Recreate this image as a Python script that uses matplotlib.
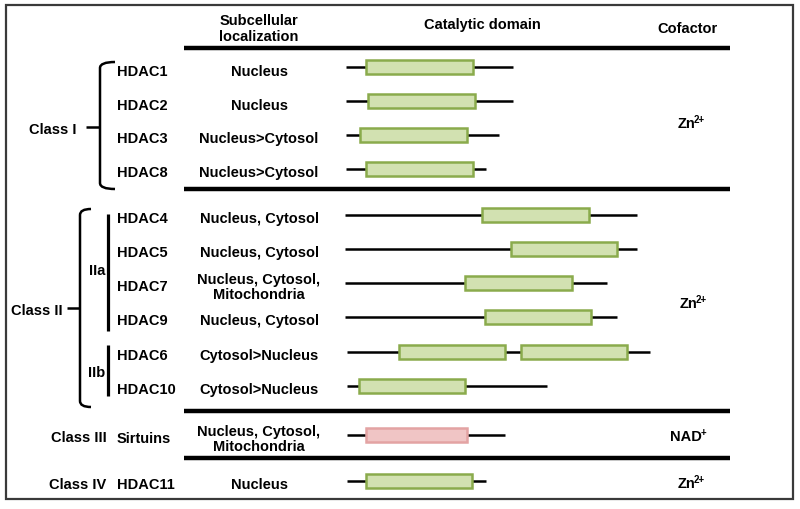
import matplotlib.pyplot as plt
from matplotlib.patches import Rectangle
from matplotlib.path import Path
from matplotlib.patches import PathPatch

plt.rcParams.update({
    'font.family': ['Liberation Sans', 'DejaVu Sans'],
    'font.weight': 'bold',
})

# --- data ---
names = ['HDAC1', 'HDAC2', 'HDAC3', 'HDAC8',
         'HDAC4', 'HDAC5', 'HDAC7', 'HDAC9', 'HDAC6', 'HDAC10',
         'Sirtuins', 'HDAC11']
localization = ['Nucleus', 'Nucleus', 'Nucleus>Cytosol', 'Nucleus>Cytosol',
                'Nucleus, Cytosol', 'Nucleus, Cytosol', 'Nucleus, Cytosol,\nMitochondria',
                'Nucleus, Cytosol', 'Cytosol>Nucleus', 'Cytosol>Nucleus',
                'Nucleus, Cytosol,\nMitochondria', 'Nucleus']
# protein backbone start / end (drawing units)
prot_start = [346, 346, 346, 346, 345, 345, 345, 345, 347, 347, 347, 347]
prot_end = [513, 513, 499, 486, 637, 637, 607, 617, 650, 547, 505, 486]
# catalytic domains (start, end) per protein
domains = [
    [(366, 473)], [(368, 475)], [(360, 467)], [(366, 473)],
    [(482, 589)], [(511, 617)], [(465, 572)], [(485, 591)],
    [(399, 505), (521, 627)], [(359, 465)],
    [(366, 467)], [(366, 472)],
]
nad_dependent = [False] * 10 + [True, False]
classes = ['Class I', 'Class II', 'Class III', 'Class IV']
cofactor_base = ['Zn', 'Zn', 'NAD', 'Zn']
cofactor_sup = ['2+', '2+', '+', '2+']

# --- layout (pixel coordinates) ---
row_y = [68, 102, 136, 170, 216, 250, 284, 318, 353, 387, 436, 482]

fig = plt.figure(figsize=(8, 5.1), dpi=100)
ax = fig.add_axes([0, 0, 1, 1])
ax.set_xlim(0, 800)
ax.set_ylim(510, 0)
ax.axis('off')

# outer frame
ax.add_patch(Rectangle((6, 6), 787, 494, fill=False, edgecolor='#3a3a3a', lw=1.6))

# headers
ax.text(259, 29, 'Subcellular\nlocalization', ha='center', va='center', fontsize=10.5, linespacing=1.15)
ax.text(482, 25, 'Catalytic domain', ha='center', va='center', fontsize=10.5)
ax.text(688, 29, 'Cofactor', ha='center', va='center', fontsize=10.5)

# separators
ax.hlines([49, 190, 412, 459], 184, 730, color='black', lw=3.2)

green_fill, green_edge = '#d2e1b1', '#8aab4c'
pink_fill, pink_edge = '#f0c5c5', '#e3a3a3'

for i, name in enumerate(names):
    y = row_y[i]
    ax.text(117, y + 3.5, name, ha='left', va='center', fontsize=10.5)
    ax.text(259, y + 3.5, localization[i], ha='center', va='center', fontsize=10.5, linespacing=1.15)
    ax.plot([prot_start[i], prot_end[i]], [y, y], color='black', lw=1.8, solid_capstyle='butt', zorder=1)
    fc, ec = (pink_fill, pink_edge) if nad_dependent[i] else (green_fill, green_edge)
    for d0, d1 in domains[i]:
        ax.add_patch(Rectangle((d0, y - 7), d1 - d0, 14, facecolor=fc, edgecolor=ec, lw=1.8, zorder=2))

# cofactors: base text plus small superscript
cof_pos = [(695, 124), (697, 304), (702, 437), (695, 484)]
for base, sup, (xs, yc) in zip(cofactor_base, cofactor_sup, cof_pos):
    ax.text(xs, yc, base, ha='right', va='center', fontsize=10.5)
    ax.text(xs - 1.5, yc - 4, sup, ha='left', va='center', fontsize=7)


def brace(x, top, bot, mid, tip, arm):
    r = 6
    verts = [(arm, top), (x, top), (x, top + r),
             (x, bot - r), (x, bot), (arm, bot)]
    codes = [Path.MOVETO, Path.CURVE3, Path.CURVE3,
             Path.LINETO, Path.CURVE3, Path.CURVE3]
    ax.add_patch(PathPatch(Path(verts, codes), fill=False, lw=1.8, edgecolor='black'))
    ax.plot([tip, x], [mid, mid], color='black', lw=1.8, solid_capstyle='butt')


brace(100, 63, 190, 128, 86, 115)
brace(80, 210, 408, 309, 67, 91)

ax.text(53, 130, classes[0], ha='center', va='center', fontsize=10.5)
ax.text(37, 311, classes[1], ha='center', va='center', fontsize=10.5)
ax.text(79, 438, classes[2], ha='center', va='center', fontsize=10.5)
ax.text(78, 485, classes[3], ha='center', va='center', fontsize=10.5)

# subclass bars
ax.plot([108, 108], [215, 332], color='black', lw=2.3, solid_capstyle='butt')
ax.plot([108, 108], [346, 397], color='black', lw=2.3, solid_capstyle='butt')
ax.text(97, 271, 'IIa', ha='center', va='center', fontsize=10.5)
ax.text(97, 373, 'IIb', ha='center', va='center', fontsize=10.5)

fig.savefig('out.png', dpi=100)
